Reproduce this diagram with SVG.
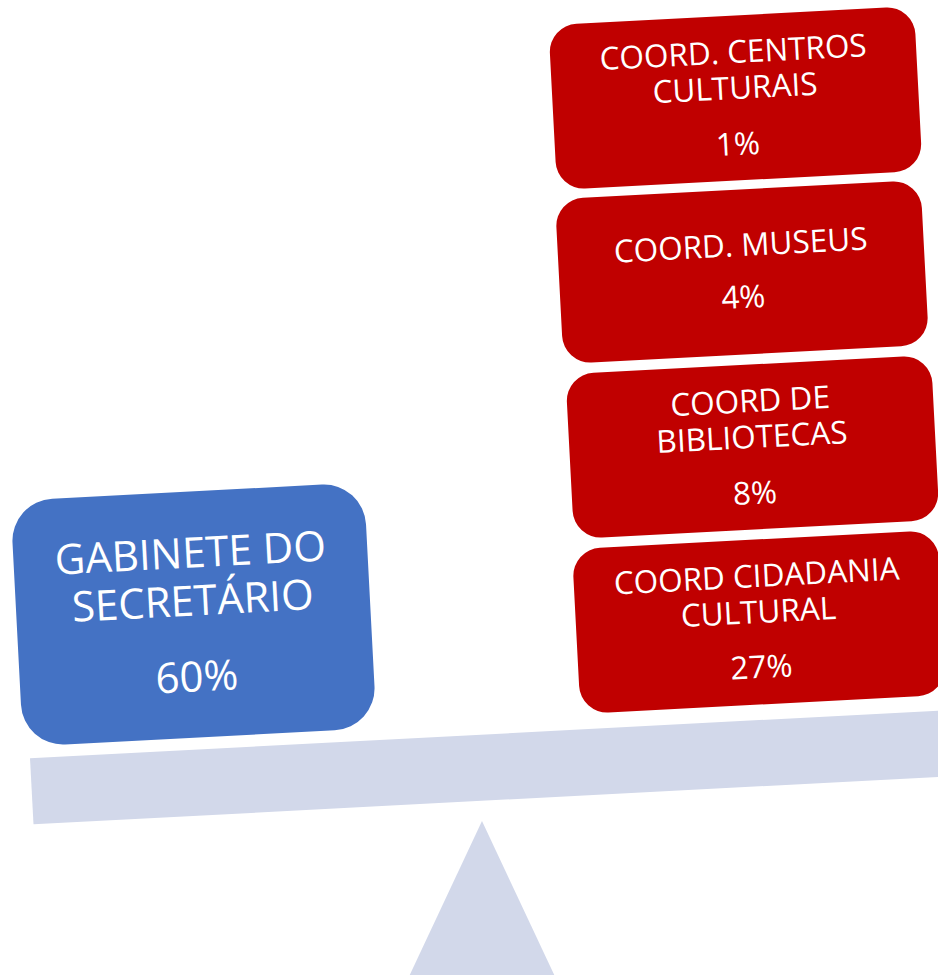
<svg xmlns="http://www.w3.org/2000/svg" width="938" height="975" viewBox="0 0 938 975">
<style>
.red{fill:#C00000}
.blue{fill:#4472C4}
.base{fill:#D2D8EA}
text{fill:#FFFFFF;font-family:"Open Sans","Liberation Sans",sans-serif;text-anchor:middle}
.s{font-size:31.5px}
.b{font-size:42px}
</style>
<rect width="938" height="975" fill="#FFFFFF"/>
<g id="fulcrum"><polygon class="base" points="482,821 398,1000 566,1000"/></g>
<g id="beam"><polygon class="base" points="30,758.3 963.7,709.4 967.2,775.4 33.5,824.3"/></g>
<g id="gabinete" transform="translate(193.5,614.5) rotate(-3)">
<rect class="blue" x="-177" y="-123" width="354" height="246" rx="42"/>
<text class="b" x="0" y="-47">GABINETE DO</text>
<text class="b" x="0" y="1">SECRETÁRIO</text>
<text class="b" x="0" y="77">60%</text>
</g>
<g id="centros" transform="translate(735.5,98) rotate(-3)">
<rect class="red" x="-183" y="-82.5" width="366" height="165" rx="28"/>
<text class="s" x="0" y="-35">COORD. CENTROS</text>
<text class="s" x="0" y="1">CULTURAIS</text>
<text class="s" x="0" y="57">1%</text>
</g>
<g id="museus" transform="translate(742,272) rotate(-3)">
<rect class="red" x="-183" y="-82.5" width="366" height="165" rx="28"/>
<text class="s" x="0" y="-16">COORD. MUSEUS</text>
<text class="s" x="0" y="36">4%</text>
</g>
<g id="bibliotecas" transform="translate(752.5,447) rotate(-3)">
<rect class="red" x="-183" y="-82.5" width="366" height="165" rx="28"/>
<text class="s" x="0" y="-35">COORD DE</text>
<text class="s" x="0" y="1">BIBLIOTECAS</text>
<text class="s" x="0" y="57">8%</text>
</g>
<g id="cidadania" transform="translate(759,622) rotate(-3)">
<rect class="red" x="-183" y="-82.5" width="366" height="165" rx="28"/>
<text class="s" x="0" y="-35">COORD CIDADANIA</text>
<text class="s" x="0" y="1">CULTURAL</text>
<text class="s" x="0" y="56">27%</text>
</g>
<g id="connectors"/>
</svg>
